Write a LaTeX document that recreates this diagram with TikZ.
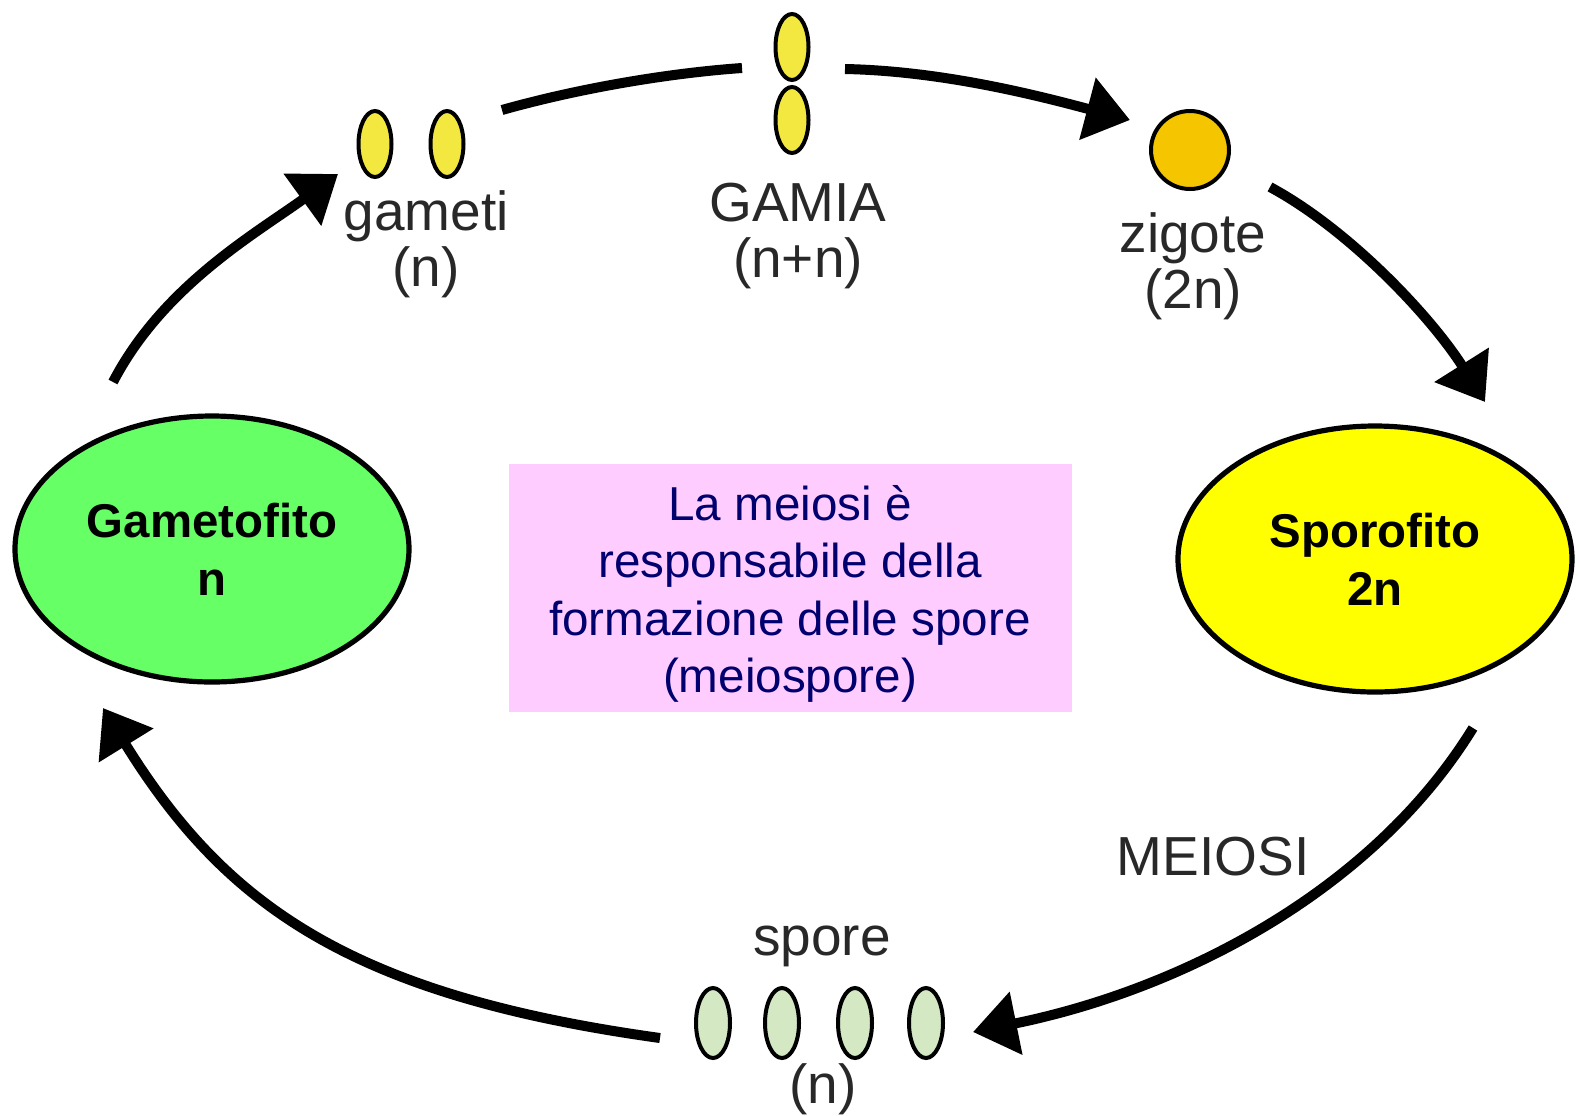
\documentclass[tikz,border=0pt]{standalone}
\usepackage{fontspec}
\setmainfont{Liberation Sans}
\usetikzlibrary{arrows.meta,shapes.geometric}
\definecolor{gamgreen}{RGB}{102,255,102}
\definecolor{sporyellow}{RGB}{255,255,0}
\definecolor{boxpink}{RGB}{255,204,255}
\definecolor{navytext}{RGB}{0,0,110}
\definecolor{gametecol}{RGB}{242,232,64}
\definecolor{zigcol}{RGB}{245,198,0}
\definecolor{sporecol}{RGB}{212,232,196}
\definecolor{labelgray}{RGB}{40,40,40}
\begin{document}
\begin{tikzpicture}[x=0.5pt,y=-0.5pt,
  phase/.style={ellipse, draw=black, line width=2.6pt, inner sep=0pt, minimum width=197pt, minimum height=133pt, font=\fontsize{23.7}{29}\selectfont\bfseries, align=center},
  cell/.style={ellipse, draw=black, line width=2pt, inner sep=0pt, minimum width=16.5pt, minimum height=33pt},
  lab/.style={text=labelgray, font=\fontsize{27.5}{28}\selectfont, align=center, inner sep=0pt},
  cyc/.style={line width=5pt, -{Triangle[length=22pt,width=31pt]}},
  plainline/.style={line width=5pt}
]
\useasboundingbox (0,0) rectangle (1580,1115);
\fill[white] (0,0) rectangle (1580,1115);

% main phases
\node[phase, fill=gamgreen] (gam) at (212,549) {Gametofito\\n};
\node[phase, fill=sporyellow] (spo) at (1375,559) {Sporofito\\2n};
\node[fill=boxpink, minimum width=281.5pt, minimum height=124pt, inner sep=0pt] (box) at (790,588) {};
\node[text=navytext, align=center, inner sep=0pt, font=\fontsize{23.8}{28.75}\selectfont] (boxtext) at (790,594) {La meiosi è\\responsabile della\\formazione delle spore\\(meiospore)};

% cells
\node[cell, fill=gametecol] (g1) at (375,144) {};
\node[cell, fill=gametecol] (g2) at (447,144) {};
\node[cell, fill=gametecol] (f1) at (792,47) {};
\node[cell, fill=gametecol] (f2) at (792,120) {};
\node[circle, draw=black, line width=2pt, fill=zigcol, minimum size=39pt, inner sep=0pt] (zyg) at (1190,150) {};
\node[cell, fill=sporecol, minimum width=17pt, minimum height=35pt] (s1) at (713,1023) {};
\node[cell, fill=sporecol, minimum width=17pt, minimum height=35pt] (s2) at (782,1023) {};
\node[cell, fill=sporecol, minimum width=17pt, minimum height=35pt] (s3) at (855,1023) {};
\node[cell, fill=sporecol, minimum width=17pt, minimum height=35pt] (s4) at (926,1023) {};

% labels
\node[lab] (lgam) at (426,244) {gameti\\(n)};
\node[lab] (lgamia) at (798,236) {GAMIA\\(n+n)};
\node[lab] (lzyg) at (1193,266) {zigote\\(2n)};
\node[lab] (lmei) at (1213,857) {MEIOSI};
\node[lab] (lspo) at (822,946) {spore};
\node[lab] (lspn) at (823,1089) {(n)};

% connector ends
\coordinate (a1s) at (113,382); \coordinate (a1e) at (338,174);
\coordinate (a2s) at (502,110); \coordinate (a2e) at (742,68);
\coordinate (a3s) at (845,69);  \coordinate (a3e) at (1130,120);
\coordinate (a4s) at (1270,187); \coordinate (a4e) at (1485,402);
\coordinate (a5s) at (1473,728); \coordinate (a5e) at (973,1032);
\coordinate (a6s) at (660,1038); \coordinate (a6e) at (103,708);

\draw[cyc] (a1s) .. controls (163,286) and (255,234) .. (a1e);
\draw[plainline] (a2s) .. controls (580,88) and (670,73) .. (a2e);
\draw[cyc] (a3s) .. controls (945,71) and (1043,97) .. (a3e);
\draw[cyc] (a4s) .. controls (1350,230) and (1432,318) .. (a4e);
\draw[cyc] (a5s) .. controls (1372,892) and (1180,990) .. (a5e);
\draw[cyc] (a6s) .. controls (350,995) and (225,905) .. (a6e);
\end{tikzpicture}
\end{document}
